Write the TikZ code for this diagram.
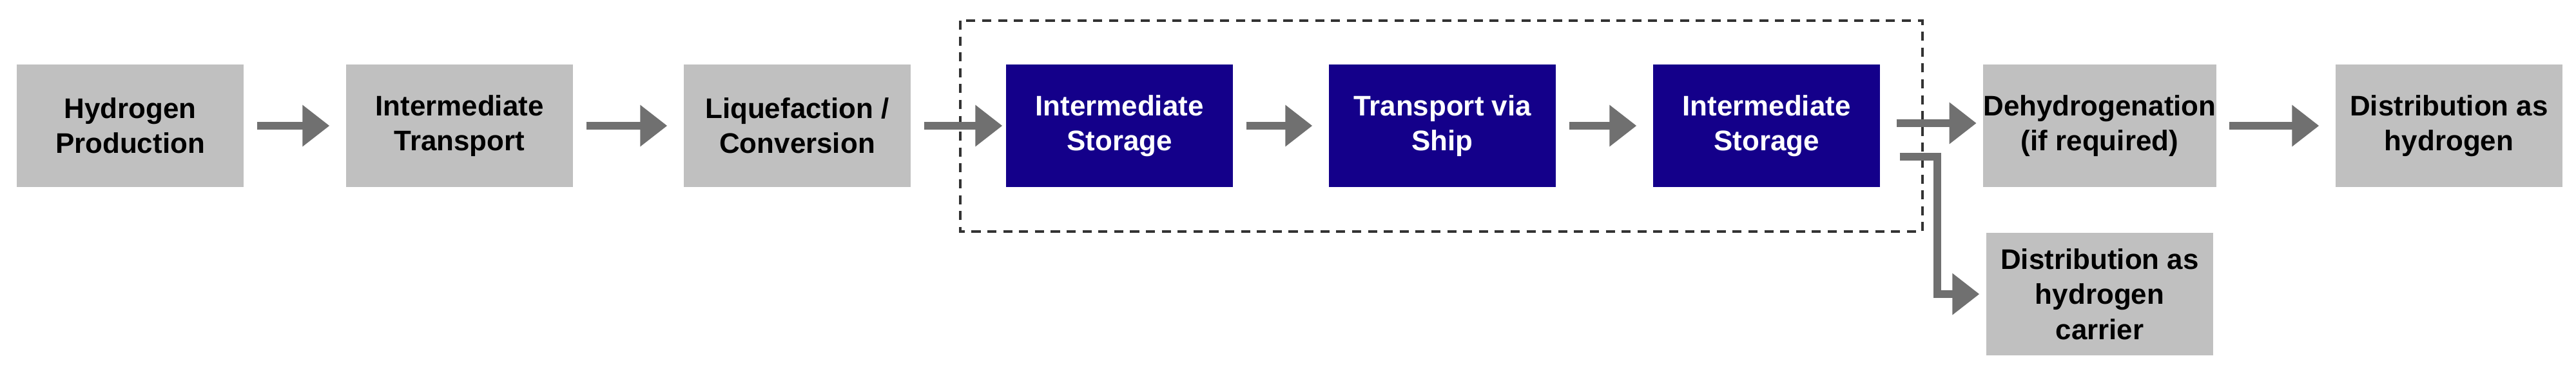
\documentclass[tikz,border=0pt]{standalone}
\usepackage{fontspec}
\setmainfont{Liberation Sans}
\usetikzlibrary{arrows.meta}
\definecolor{boxgray}{HTML}{C0C0C0}
\definecolor{navy}{HTML}{14008A}
\definecolor{arrgray}{HTML}{707070}
\tikzset{
 gbox/.style={fill=boxgray,draw=none,minimum width=3.52cm,minimum height=1.9cm,align=center,font=\fontsize{12.5}{15.5}\selectfont\bfseries,text=black,inner sep=0pt},
 bbox/.style={gbox,fill=navy,text=white},
 arr/.style={draw=arrgray,line width=3.6pt,-{Triangle[length=0.42cm,width=0.62cm]}}
}
\begin{document}
\begin{tikzpicture}[x=1cm,y=1cm]
\useasboundingbox[fill=white] (0,0) rectangle (39.97,5.83);
\draw[dashed,line width=1.4pt,black!80,dash pattern=on 4pt off 3pt] (14.9,5.51) rectangle (29.83,2.24);
\node[gbox] (a) at (2.02,3.88) {Hydrogen\\Production};
\node[gbox] (b) at (7.13,3.88) {Intermediate\\Transport};
\node[gbox] (c) at (12.37,3.88) {Liquefaction /\\Conversion};
\node[bbox] (d) at (17.37,3.88) {Intermediate\\Storage};
\node[bbox] (e) at (22.38,3.88) {Transport via\\Ship};
\node[bbox] (f) at (27.41,3.88) {Intermediate\\Storage};
\node[gbox] (g) at (32.58,3.88) {Dehydrogenation\\(if required)};
\node[gbox] (h) at (38.00,3.88) {Distribution as\\hydrogen};
\node[gbox] (i) at (32.58,1.27) {Distribution as\\hydrogen\\carrier};
\draw[arr] ([xshift=0.2cm]a.east) -- ([xshift=-0.25cm]b.west);
\draw[arr] ([xshift=0.2cm]b.east) -- ([xshift=-0.25cm]c.west);
\draw[arr] ([xshift=0.2cm]c.east) -- ([xshift=-0.05cm]d.west);
\draw[arr] ([xshift=0.2cm]d.east) -- ([xshift=-0.25cm]e.west);
\draw[arr] ([xshift=0.2cm]e.east) -- ([xshift=-0.25cm]f.west);
\draw[arr] ([xshift=0.25cm,yshift=0.04cm]f.east) -- ([xshift=-0.1cm,yshift=0.04cm]g.west);
\draw[arr] ([xshift=0.2cm]g.east) -- ([xshift=-0.25cm]h.west);
\coordinate (k) at (30.06,3.4);
\draw[arr] ([xshift=0.3cm]f.east |- k) -- (k) |- ([xshift=-0.1cm]i.west);
\end{tikzpicture}
\end{document}
